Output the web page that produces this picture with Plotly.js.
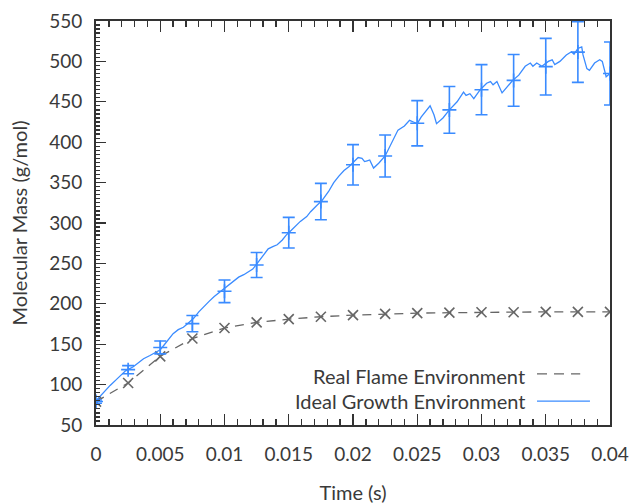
<!DOCTYPE html>
<html>
<head>
<meta charset="utf-8">
<script src="https://cdn.plot.ly/plotly-3.0.1.min.js"></script>
<style>html,body{margin:0;padding:0;background:#fff;}#plot{width:632px;height:504px;}</style>
</head>
<body>
<div id="plot"></div>
<script>
// Ideal Growth Environment: continuous simulated trace
var idealTime = [0,0.0005,0.0011,0.0017,0.0023,0.0029,0.0033,0.0037,0.0042,0.0046,0.005,0.0053,0.0057,0.006,0.0064,0.0068,0.0071,0.0076,0.008,0.0084,0.0088,0.0092,0.0096,0.01,0.0104,0.0108,0.0111,0.0115,0.0119,0.0122,0.0125,0.0129,0.0134,0.0138,0.0141,0.0145,0.0148,0.0152,0.0155,0.0159,0.0164,0.0167,0.0172,0.0176,0.0181,0.0185,0.0189,0.0193,0.0197,0.02,0.0204,0.0207,0.0209,0.0211,0.0213,0.0216,0.022,0.0225,0.023,0.0235,0.024,0.0244,0.0247,0.025,0.0253,0.0256,0.026,0.0263,0.0265,0.027,0.0275,0.0281,0.0286,0.0288,0.0291,0.0294,0.0299,0.0304,0.0307,0.0309,0.0312,0.0316,0.032,0.0324,0.0329,0.0334,0.0338,0.034,0.0343,0.0347,0.0352,0.0355,0.0357,0.0361,0.0366,0.037,0.0372,0.0375,0.0378,0.0379,0.0382,0.0384,0.0388,0.0392,0.0394,0.0397,0.04];
var idealMass = [80,89,99,108,117,122,127,132,136,139,143,149,157,163,168,171,175,182,190,197,203,209,214,219,224,229,233,236,240,243,249,258,268,271,273,279,285,291,296,302,308,314,322,328,339,350,358,365,370,375,381,380,376,377,378,368,374,383,398,415,420,427,425,423,431,437,445,434,423,430,440,450,462,458,460,454,465,473,475,471,475,461,469,476,483,494,498,494,498,494,500,502,496,500,508,512,509,516,518,508,491,489,498,502,500,481,485];

// Error-bar samples of the ideal environment
var errTime = [0,0.0025,0.005,0.0075,0.01,0.0125,0.015,0.0175,0.02,0.0225,0.025,0.0275,0.03,0.0325,0.035,0.0375,0.04];
var errMass = [79,118.5,146,175.5,215.5,248,288,326.5,372,383,423.5,440,465,476.5,493.5,511.5,485];
var errSize = [2,5,8,10,14,15.5,19,22.5,25,26,28,29,31,32,35,37.5,39];

// Real Flame Environment
var realTime = [0,0.0025,0.005,0.0075,0.01,0.0125,0.015,0.0175,0.02,0.0225,0.025,0.0275,0.03,0.0325,0.035,0.0375,0.04];
var realMass = [79,102,135,157,170,177,181,184,186,187.5,188.5,189,189.5,189.5,190,190,190];

var xTicks = [0,0.005,0.01,0.015,0.02,0.025,0.03,0.035,0.04];
var xTickText = ['0','0.005','0.01','0.015','0.02','0.025','0.03','0.035','0.04'];
var yTicks = [50,100,150,200,250,300,350,400,450,500,550];

var legendNames = ['Real Flame Environment','Ideal Growth Environment'];

var BLUE = '#3a8bff';
var GRAY = '#666666';
var FONT = 'Lato, "Open Sans", sans-serif';
var TXT = '#3a3a3a';
var FS = 19;
var FS2 = 20;

var traces = [
  {x: realTime, y: realMass, type: 'scatter', mode: 'lines+markers',
   line: {color: GRAY, width: 1.3, dash: '9px,7px'},
   marker: {symbol: 'x-thin-open', size: 10, line: {color: GRAY, width: 1.6}},
   hoverinfo: 'skip', showlegend: false},
  {x: idealTime, y: idealMass, type: 'scatter', mode: 'lines',
   line: {color: BLUE, width: 1.3}, hoverinfo: 'skip', showlegend: false},
  {x: errTime, y: errMass, type: 'scatter', mode: 'markers',
   marker: {symbol: 'cross-thin-open', size: 10, color: BLUE, line: {color: BLUE, width: 1.6}},
   error_y: {type: 'data', array: errSize, visible: true, color: BLUE, thickness: 1.6, width: 6},
   hoverinfo: 'skip', showlegend: false}
];

var axisCommon = {
  showgrid: false, zeroline: false, showline: true, linecolor: '#333', linewidth: 2,
  ticks: 'inside', tickcolor: '#333', tickwidth: 1.3,
  tickfont: {family: FONT, size: FS, color: TXT}
};

var layout = {
  width: 632, height: 504,
  margin: {l: 96, r: 22, t: 21, b: 79},
  paper_bgcolor: '#fff', plot_bgcolor: '#fff',
  font: {family: FONT, color: TXT},
  xaxis: Object.assign({}, axisCommon, {
    range: [0, 0.04], tickvals: xTicks, ticktext: xTickText, ticklen: 11,
    mirror: 'ticks', ticklabelstandoff: 11,
    minor: {dtick: 0.001, ticklen: 6, ticks: 'inside', tickcolor: '#333', tickwidth: 1.3},
    title: {text: 'Time (s)', font: {family: FONT, size: FS2, color: TXT}, standoff: 23}
  }),
  yaxis: Object.assign({}, axisCommon, {
    range: [50, 550], tickvals: yTicks, ticklen: 10, mirror: true, ticklabelstandoff: 8,
    minor: {dtick: 5, ticklen: 4, ticks: 'inside', tickcolor: '#333', tickwidth: 1.3},
    title: {text: 'Molecular Mass (g/mol)', font: {family: FONT, size: FS2, color: TXT}, standoff: 16}
  }),
  annotations: [
    {xref: 'paper', yref: 'paper', x: 0.8385, y: 0.1213, xanchor: 'right', yanchor: 'middle',
     text: legendNames[0], showarrow: false, font: {family: FONT, size: FS2, color: TXT}},
    {xref: 'paper', yref: 'paper', x: 0.8385, y: 0.0582, xanchor: 'right', yanchor: 'middle',
     text: legendNames[1], showarrow: false, font: {family: FONT, size: FS2, color: TXT}}
  ],
  shapes: [
    {type: 'line', xref: 'paper', yref: 'paper', x0: 0.858, x1: 0.942, y0: 0.1263, y1: 0.1263,
     line: {color: GRAY, width: 1.3, dash: '10px,7px'}},
    {type: 'line', xref: 'paper', yref: 'paper', x0: 0.858, x1: 0.961, y0: 0.059, y1: 0.059,
     line: {color: BLUE, width: 1.3}}
  ]
};

Plotly.newPlot('plot', traces, layout, {staticPlot: true, displayModeBar: false});
</script>
</body>
</html>
